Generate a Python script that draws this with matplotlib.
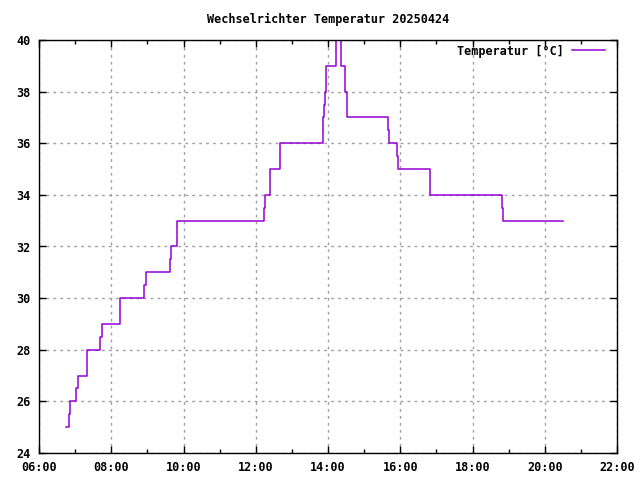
import datetime as dt
import matplotlib
matplotlib.use("Agg")
import matplotlib.pyplot as plt
import matplotlib.dates as mdates

# Messwerte (Uhrzeit, Temperatur in °C), Stufenverlauf
zeiten = [
    "06:45:00", "06:50:00", "06:52:00", "07:02:00", "07:04:00", "07:19:00",
    "07:42:00", "07:44:00", "08:15:00", "08:55:00", "08:57:00", "09:37:00",
    "09:39:00", "09:49:00", "12:14:00", "12:16:00", "12:23:00", "12:41:00",
    "13:51:00", "13:52:00", "13:53:40", "13:55:20", "13:57:00", "14:13:00",
    "14:21:00", "14:28:00", "14:32:00", "15:39:00", "15:41:00", "15:54:00",
    "15:56:00", "16:49:00", "16:50:00", "18:49:00", "18:50:00", "20:31:00",
]
temperatur = [
    25, 25.5, 26, 26.5, 27, 28,
    28.5, 29, 30, 30.5, 31, 31.5,
    32, 33, 33.5, 34, 35, 36,
    36.5, 37, 37.5, 38, 39, 41,
    39, 38, 37, 36.5, 36, 35.5,
    35, 34.5, 34, 33.5, 33, 33,
]
y_ticks = [24, 26, 28, 30, 32, 34, 36, 38, 40]

tag = dt.date(2025, 4, 24)
t = [dt.datetime.combine(tag, dt.datetime.strptime(z, "%H:%M:%S").time()) for z in zeiten]

font = {"family": "DejaVu Sans Mono", "weight": "bold", "size": 8.5}
plt.rcParams["font.family"] = "DejaVu Sans Mono"
plt.rcParams["font.weight"] = "bold"
plt.rcParams["font.size"] = 8.5

fig = plt.figure(figsize=(6.4, 4.8), dpi=100)
ax = fig.add_axes([39 / 640, 27 / 480, 578 / 640, 413 / 480])

ax.plot(t, temperatur, drawstyle="steps-post", color="#9400d3", lw=1.1,
        label="Temperatur [°C]")

ax.set_ylim(24, 40)
ax.set_yticks(y_ticks)
ax.xaxis.set_major_locator(mdates.HourLocator(byhour=range(0, 24, 2)))
ax.xaxis.set_minor_locator(mdates.HourLocator(byhour=range(1, 24, 2)))
ax.xaxis.set_major_formatter(mdates.DateFormatter("%H:%M"))
ax.set_xlim(dt.datetime.combine(tag, dt.time(6)), dt.datetime.combine(tag, dt.time(22)))

ax.grid(True, which="major", color="#a0a0a0", linestyle=(0, (2, 3)), lw=1.0)
ax.tick_params(which="both", direction="in", top=True, right=True, width=1.0)
ax.tick_params(which="major", length=5, pad=6)
ax.tick_params(which="minor", length=3)
for s in ax.spines.values():
    s.set_linewidth(1.0)

ax.set_title("Wechselrichter Temperatur 20250424", fontdict=font, pad=12)
ax.legend(loc="center right", bbox_to_anchor=(605 / 640, 1 - 51 / 480),
          bbox_transform=fig.transFigure, frameon=False, markerfirst=False,
          handlelength=2.8, handletextpad=0.7, borderpad=0, borderaxespad=0,
          prop=font)

fig.savefig("out.png", dpi=100)
